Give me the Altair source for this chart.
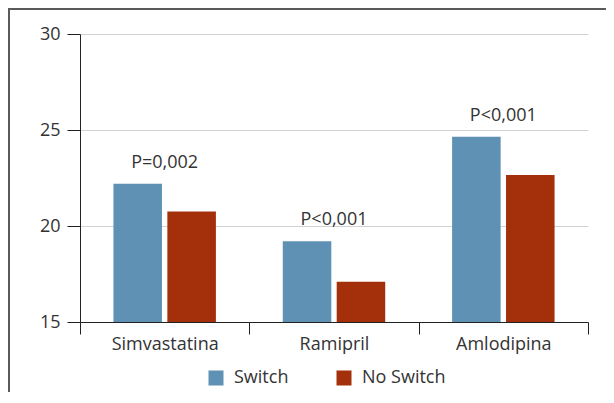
import altair as alt
import pandas as pd

categories = ["Simvastatina", "Ramipril", "Amlodipina"]
switch = [22.2, 19.2, 24.65]
no_switch = [20.75, 17.1, 22.65]
p_labels = ["P=0,002", "P<0,001", "P<0,001"]
series = ["Switch", "No Switch"]
colors = ["#5f91b4", "#a3300a"]

FONT = "Open Sans"
FS = 18

rows = []
for c, s, n in zip(categories, switch, no_switch):
    rows.append({"cat": c, "serie": "Switch", "value": s})
    rows.append({"cat": c, "serie": "No Switch", "value": n})
df = pd.DataFrame(rows)

lab = pd.DataFrame({"cat": categories, "top": [max(a, b) for a, b in zip(switch, no_switch)], "label": p_labels})

xscale = alt.Scale(domain=categories, paddingInner=0, paddingOuter=0)
yscale = alt.Scale(domain=[15, 30], zero=False, nice=False)

bars = alt.Chart(df).mark_bar().encode(
    x=alt.X("cat:N", scale=xscale, sort=categories, title=None,
            axis=alt.Axis(tickBand="extent", labelAngle=0, tickSize=12, tickColor="#222",
                          domainColor="#222", labelFontSize=FS, labelColor="#333",
                          labelFont=FONT, labelPadding=1, zindex=1, grid=False)),
    xOffset=alt.XOffset("serie:N", sort=series,
                        scale=alt.Scale(domain=series, paddingInner=0.1, paddingOuter=0.62)),
    y=alt.Y("value:Q", scale=yscale, title=None,
            axis=alt.Axis(values=[15, 20, 25, 30], tickSize=13, tickColor="#222",
                          domainColor="#222", grid=True, gridColor="#d3d3d3",
                          labelFontSize=FS, labelColor="#333", labelFont=FONT,
                          labelPadding=7)),
    y2=alt.datum(15),
    color=alt.Color("serie:N", sort=series, scale=alt.Scale(domain=series, range=colors),
                    legend=alt.Legend(title=None, orient="none", direction="horizontal",
                                      legendX=127, legendY=335, symbolType="square",
                                      symbolSize=225, symbolStrokeWidth=0,
                                      labelFontSize=FS, labelFont=FONT, labelColor="#333",
                                      labelOffset=9, columnPadding=46)),
)

text = alt.Chart(lab).mark_text(baseline="alphabetic", dy=-16, fontSize=FS, font=FONT,
                                color="#333").encode(
    x=alt.X("cat:N", scale=xscale, sort=categories),
    y=alt.Y("top:Q", scale=yscale),
    text="label:N",
)

frame = alt.Chart(pd.DataFrame({"a": [0]})).mark_rect(fill=None, stroke="#5a5a5a", strokeWidth=2).encode(
    x=alt.value(-71), x2=alt.value(640), y=alt.value(-25), y2=alt.value(420)
)

chart = alt.layer(frame, bars, text).properties(
    width=508, height=288,
    autosize=alt.AutoSizeParams(type="none"),
    padding={"left": 72, "top": 26, "right": 18, "bottom": 70},
).configure_view(stroke=None)

chart.save("out.html", embed_options={"renderer": "svg", "actions": False})
